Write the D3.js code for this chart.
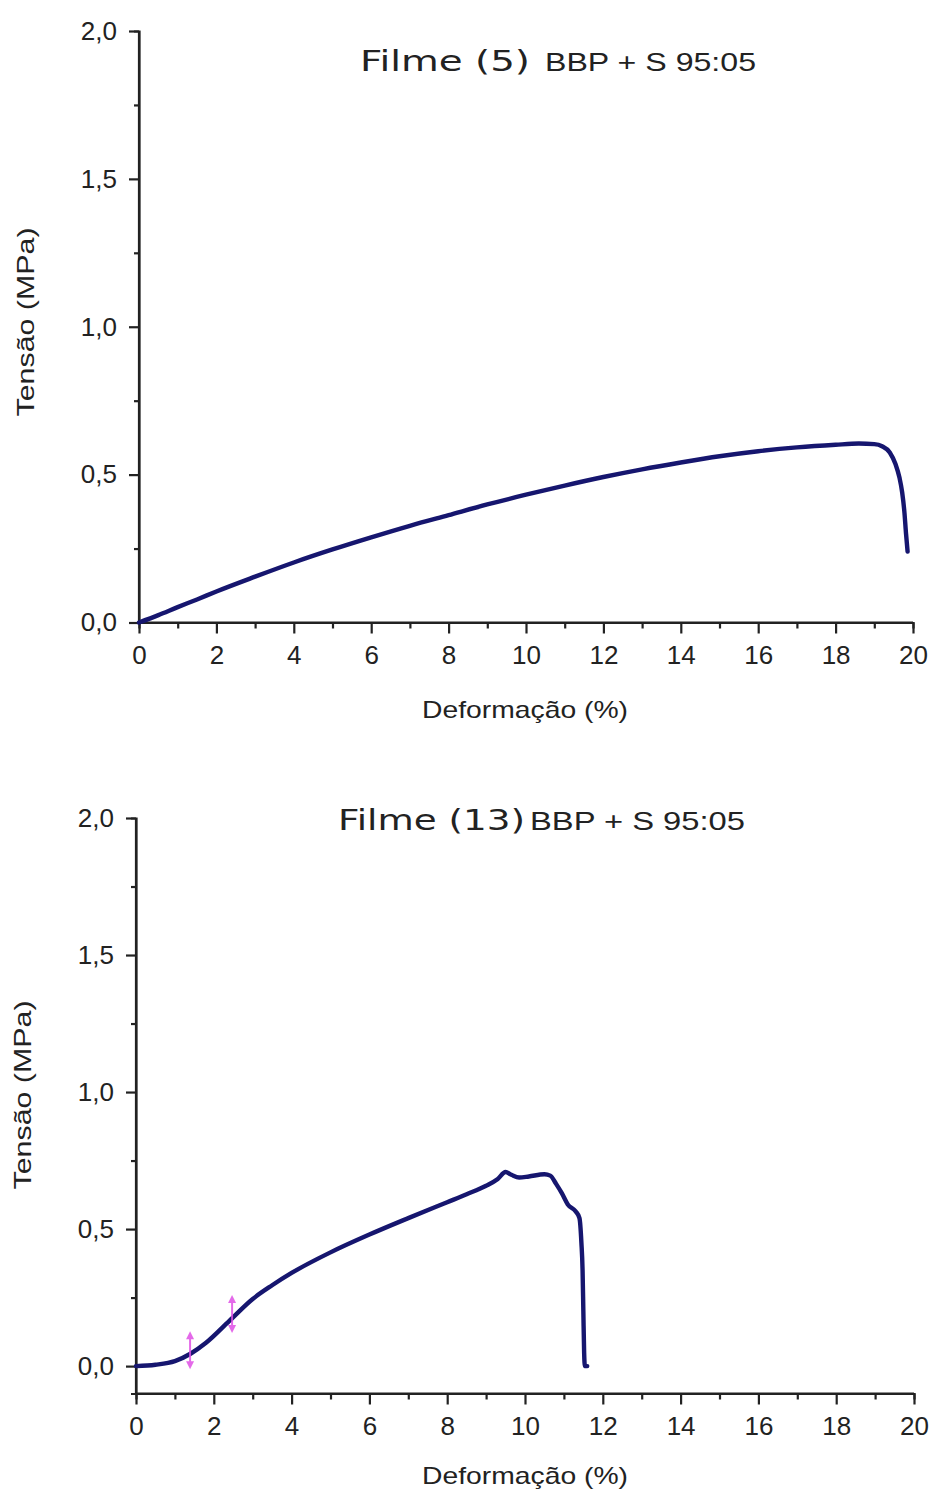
<!DOCTYPE html>
<html><head><meta charset="utf-8">
<script src="https://cdn.jsdelivr.net/npm/d3@7"></script>
<style>
html,body{margin:0;padding:0;background:#fff;}
svg{display:block;}
</style></head>
<body>
<script>
// ---- data ----
const xTicks = [0,2,4,6,8,10,12,14,16,18,20];
const xMinor = [1,3,5,7,9,11,13,15,17,19];
const yTicks = [0,0.5,1.0,1.5,2.0];
const yMinor = [0.25,0.75,1.25,1.75];

const titles1 = ["Filme (5)", "BBP + S 95:05"];
const titles2 = ["Filme (13)", "BBP + S 95:05"];
const xLabel = "Deformação (%)";
const yLabel = "Tensão (MPa)";

// Filme (5): strain (%) and stress (MPa)
const strain5 = [0,0.5,1,1.5,2,3,4,5,6,7,8,9,10,11,12,13,14,15,16,17,18,18.6,19.0,19.2,19.4,19.55,19.65,19.72,19.78,19.82,19.86];
const stress5 = [0,0.025,0.052,0.078,0.105,0.155,0.203,0.247,0.288,0.327,0.363,0.399,0.432,0.463,0.492,0.518,0.541,0.562,0.579,0.592,0.601,0.605,0.603,0.596,0.575,0.535,0.49,0.44,0.37,0.30,0.24];

// Filme (13)
const strain13 = [0,0.5,1.0,1.4,1.8,2.4,3.0,3.5,4.0,5.0,6.0,7.0,8.0,8.5,9.0,9.3,9.5,9.65,9.85,10.1,10.5,10.65,10.8,10.95,11.1,11.3,11.4,11.45,11.48,11.5,11.52,11.54,11.6];
const stress13 = [0,0.005,0.018,0.045,0.085,0.165,0.245,0.295,0.34,0.415,0.48,0.54,0.598,0.627,0.658,0.683,0.708,0.698,0.688,0.692,0.70,0.695,0.665,0.63,0.59,0.565,0.54,0.45,0.35,0.2,0.05,0.0,0.0];

// markers on Filme (13)
const markX = [1.39, 2.47];
const markY = [0.058, 0.19];

// ---- drawing ----
const W = 936, H = 1491;
const svg = d3.select("body").append("svg").attr("width", W).attr("height", H);
const fmtY = v => d3.format(".1f")(v).replace(".", ",");
const AX = "#222";
const LINE = "#16166f";

function panel(cfg) {
  const x = d3.scaleLinear().domain([0,20]).range([cfg.x0, cfg.x1]);
  const y = d3.scaleLinear().domain([cfg.yMin, 2]).range([cfg.yBottom, cfg.yTop]);
  const g = svg.append("g");

  // x axis
  const xa = g.append("g").attr("transform", `translate(0,${y(cfg.yMin)})`)
    .call(d3.axisBottom(x).tickValues(xTicks).tickSize(11).tickPadding(12).tickFormat(d3.format("d")));
  g.append("g").attr("transform", `translate(0,${y(cfg.yMin)})`)
    .call(d3.axisBottom(x).tickValues(xMinor).tickSize(6).tickFormat(""));
  // y axis
  const ya = g.append("g").attr("transform", `translate(${x(0)},0)`)
    .call(d3.axisLeft(y).tickValues(yTicks).tickSize(10).tickPadding(12).tickFormat(fmtY));
  g.append("g").attr("transform", `translate(${x(0)},0)`)
    .call(d3.axisLeft(y).tickValues(yMinor).tickSize(5).tickFormat(""));

  g.selectAll(".domain").attr("stroke", AX).attr("stroke-width", 2.2);
  g.selectAll(".tick line").attr("stroke", AX).attr("stroke-width", 2.2);
  g.selectAll(".tick text").attr("fill", "#222")
    .style("font-family", "'Liberation Sans', Arial, sans-serif").style("font-size", "26px");
  xa.select(".domain").attr("d", `M${x(0)},0H${x(20)}`);
  ya.select(".domain").attr("d", `M0,${y(2)}V${y(cfg.yMin)}`);

  // curve
  const pts = cfg.xs.map((v,i) => [v, cfg.ys[i]]);
  g.append("path").datum(pts)
    .attr("fill", "none").attr("stroke", LINE).attr("stroke-width", 4.4)
    .attr("stroke-linejoin", "round").attr("stroke-linecap", "round")
    .attr("d", d3.line().x(d => x(d[0])).y(d => y(d[1])).curve(d3.curveMonotoneX));

  // markers
  if (cfg.mx) {
    cfg.mx.forEach((mx, i) => {
      const cx = x(mx), cy = y(cfg.my[i]);
      const mg = g.append("g").attr("fill", "#e050e6").attr("stroke", "#e050e6").attr("opacity", 0.85);
      mg.append("line").attr("x1", cx).attr("x2", cx).attr("y1", cy-14).attr("y2", cy+14).attr("stroke-width", 2);
      mg.append("path").attr("stroke", "none").attr("d", `M${cx},${cy-19}L${cx-4},${cy-11}L${cx+4},${cy-11}Z`);
      mg.append("path").attr("stroke", "none").attr("d", `M${cx},${cy+19}L${cx-4},${cy+11}L${cx+4},${cy+11}Z`);
    });
  }

  // title
  g.append("text").attr("x", cfg.t1x).attr("y", cfg.tY).text(cfg.titles[0])
    .attr("fill", "#222").style("font-family", "'DejaVu Sans', Verdana, sans-serif").style("font-size", "28px")
    .attr("textLength", cfg.t1w).attr("lengthAdjust", "spacingAndGlyphs");
  g.append("text").attr("x", cfg.t2x).attr("y", cfg.tY).text(cfg.titles[1])
    .attr("fill", "#222").style("font-family", "'Liberation Sans', Arial, sans-serif").style("font-size", "25px")
    .attr("textLength", cfg.t2w).attr("lengthAdjust", "spacingAndGlyphs");

  // axis labels
  g.append("text").attr("x", 422).attr("y", cfg.xlY).text(xLabel)
    .attr("fill", "#222").style("font-family", "'Liberation Sans', Arial, sans-serif").style("font-size", "24px")
    .attr("textLength", 206).attr("lengthAdjust", "spacingAndGlyphs");
  g.append("text").attr("transform", `translate(${cfg.ylX},${cfg.ylY}) rotate(-90)`)
    .attr("text-anchor", "middle").text(yLabel)
    .attr("fill", "#222").style("font-family", "'Liberation Sans', Arial, sans-serif").style("font-size", "24px")
    .attr("textLength", 189).attr("lengthAdjust", "spacingAndGlyphs");
}

panel({x0:139, x1:913, yMin:0, yBottom:622.5, yTop:31,
  xs:strain5, ys:stress5, titles:titles1,
  t1x:360, t1w:170, t2x:545, t2w:211, tY:71,
  xlY:718, ylX:34, ylY:322});

panel({x0:136, x1:914, yMin:-0.1, yBottom:1393.5, yTop:818,
  xs:strain13, ys:stress13, mx:markX, my:markY, titles:titles2,
  t1x:338, t1w:187, t2x:530, t2w:215, tY:830,
  xlY:1484, ylX:31, ylY:1095});
</script>
</body></html>
